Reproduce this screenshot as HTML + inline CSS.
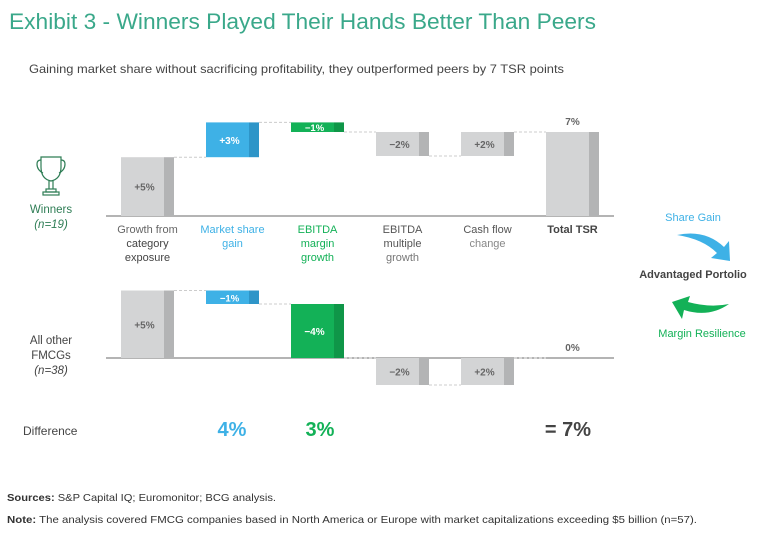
<!DOCTYPE html>
<html><head><meta charset="utf-8"><style>
html,body{margin:0;padding:0;background:#fff;}
svg{display:block;font-family:"Liberation Sans",sans-serif;}
</style></head><body>
<svg id="c" width="768" height="536" viewBox="0 0 768 536">
<text x="9" y="29" font-size="22" fill="#3aa88a" textLength="587" lengthAdjust="spacingAndGlyphs">Exhibit 3 - Winners Played Their Hands Better Than Peers</text>
<text x="29" y="73" font-size="12" fill="#444" textLength="535" lengthAdjust="spacingAndGlyphs">Gaining market share without sacrificing profitability, they outperformed peers by 7 TSR points</text>
<g fill="none" stroke="#2e7d55" stroke-width="1.2">
<path d="M41 157 h20 v10 q0 12 -10 14 q-10 -2 -10 -14z"/>
<path d="M41 160 q-4 0 -4 4 q0 6 6 9"/><path d="M61 160 q4 0 4 4 q0 6 -6 9"/>
<path d="M49 181 v8 M53 181 v8"/><rect x="46" y="189" width="10" height="3"/><rect x="43" y="192" width="16" height="3"/>
</g>
<text x="51" y="213" font-size="11.5" fill="#2e7d55" text-anchor="middle">Winners</text>
<text x="51" y="228" font-size="11.5" fill="#2e7d55" text-anchor="middle" font-style="italic">(n=19)</text>
<text x="51" y="344" font-size="11.5" fill="#444" text-anchor="middle">All other</text>
<text x="51" y="359" font-size="11.5" fill="#444" text-anchor="middle">FMCGs</text>
<text x="51" y="374" font-size="11.5" fill="#444" text-anchor="middle" font-style="italic">(n=38)</text>
<g id="marks"></g>
<text x="23" y="435" font-size="12" fill="#444">Difference</text>
<text x="232" y="436" font-size="20" font-weight="bold" fill="#3eb1e6" text-anchor="middle">4%</text>
<text x="320" y="436" font-size="20" font-weight="bold" fill="#13b157" text-anchor="middle">3%</text>
<text x="568" y="436" font-size="20" font-weight="bold" fill="#444" text-anchor="middle">= 7%</text>
<text x="693" y="221" font-size="11" fill="#3eb1e6" text-anchor="middle">Share Gain</text>
<path d="M677 235 q28 -6 47 12 l5 -6 l1 20 l-19 -3 l6 -5 q-14 -14 -40 -18z" fill="#3eb1e6"/>
<text x="693" y="278" font-size="11" font-weight="bold" fill="#444" text-anchor="middle">Advantaged Portolio</text>
<path d="M729 304 q-20 14 -45 6 l-2 9 l-10 -17 l18 -6 l-2 6 q22 6 41 2z" fill="#13b157"/>
<text x="702" y="337" font-size="11" fill="#13b157" text-anchor="middle">Margin Resilience</text>
<text x="7" y="501" font-size="10.5" fill="#333" textLength="269" lengthAdjust="spacingAndGlyphs"><tspan font-weight="bold">Sources:</tspan> S&amp;P Capital IQ; Euromonitor; BCG analysis.</text>
<text x="7" y="523" font-size="10.5" fill="#333" textLength="690" lengthAdjust="spacingAndGlyphs"><tspan font-weight="bold">Note:</tspan> The analysis covered FMCG companies based in North America or Europe with market capitalizations exceeding $5 billion (n=57).</text>
</svg>
<script>
const categories = ["Growth from|category|exposure","Market share|gain","EBITDA|margin|growth","EBITDA|multiple|growth","Cash flow|change","Total TSR"];
const winnersValues = [4.9, 2.9, -0.8, -2.0, 2.0];
const othersValues = [5.0, -1.0, -4.0, -2.0, 2.0];
const winnersLabels = ["+5%","+3%","\u22121%","\u22122%","+2%","7%"];
const othersLabels = ["+5%","\u22121%","\u22124%","\u22122%","+2%","0%"];
const catColors = [["#d3d4d5","#b3b4b5"],["#3eb1e6","#2e95c8"],["#13b157","#0f9648"],["#d3d4d5","#b3b4b5"],["#d3d4d5","#b3b4b5"],["#d3d4d5","#b3b4b5"]];
const labelColors = [["#666","#444","#444"],["#3eb1e6","#3eb1e6"],["#13b157","#13b157","#13b157"],["#555","#555","#777"],["#555","#888"],["#444"]];
const NS="http://www.w3.org/2000/svg";
const g=document.getElementById('marks');
function xOf(i){return 121+i*85;}
const BW=53, DW=10;
function el(t,a){const e=document.createElementNS(NS,t);for(const k in a)e.setAttribute(k,a[k]);g.appendChild(e);return e;}
function panel(vals,labels,base,scale,tag){
  const y=v=>base-v*scale;
  const ax=el('line',{x1:106,x2:614,y1:base,y2:base,stroke:'#888','stroke-width':1.2});
  
  
  let cum=0;
  const all=vals.concat([null]);
  all.forEach((v,i)=>{
    let a,b;
    if(v===null){a=0;b=cum;}else{a=cum;b=cum+v;}
    const top=Math.min(y(a),y(b)), h=Math.abs(y(a)-y(b));
    const x=xOf(i), col=catColors[i];
    if(h>0){
      const r=el('rect',{x:x,y:top,width:BW-DW,height:h,fill:col[0]});
      
      
      const d=el('rect',{x:x+BW-DW,y:top,width:DW,height:h,fill:col[1]});
      
      
    }
    if(v!==null && i<vals.length){
      const ln=el('line',{x1:x+BW,x2:xOf(i+1),y1:y(b),y2:y(b),stroke:'#ccc','stroke-dasharray':'3,2'});
      
      
    }
    const white=(i===1||i===2);
    const isTot=(v===null);
    const ty=isTot?(top-7):(top+h/2+4);
    const t=el('text',{x:isTot?x+BW/2:x+(BW-DW)/2+2,y:ty,'font-size':isTot?10:(h<14?9.5:10),'font-weight':'bold','text-anchor':'middle',fill:white?'#fff':'#666'});
    t.textContent=labels[i];
    
    
    if(v!==null)cum=b;
  });
}
panel(winnersValues,winnersLabels,216,12,'winners');
panel(othersValues,othersLabels,358,13.5,'others');
categories.forEach((c,i)=>{
  c.split('|').forEach((s,j)=>{
    const t=el('text',{x:xOf(i)+BW/2,y:233+j*14,'font-size':11,'text-anchor':'middle',fill:labelColors[i][j]||'#555','font-weight':i===5?'bold':'normal'});
    t.textContent=s;
    
    
  });
});
</script>
</body></html>
